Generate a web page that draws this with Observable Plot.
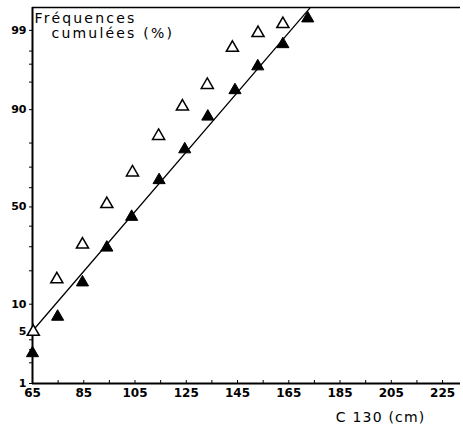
<!DOCTYPE html>
<html><head><meta charset="utf-8">
<script src="https://cdn.jsdelivr.net/npm/d3@7"></script>
<script src="https://cdn.jsdelivr.net/npm/@observablehq/plot@0.6"></script>
<style>body{margin:0;background:#fff;} svg{font-family:"DejaVu Sans",sans-serif;}</style>
</head><body><div id="chart"></div>
<script>
// Data (C 130 in cm, cumulative frequency in %)
const xOpen = [65.3, 74.5, 84.5, 94, 104, 114.2, 123.5, 133.2, 143, 153, 162.7];
const pOpen = [5, 17, 31, 51.5, 67.5, 82.5, 90.7, 94.6, 98.2, 98.9, 99.2];
const xFilled = [65, 74.8, 84.5, 94, 103.7, 114.4, 124.4, 133.4, 144, 152.9, 162.7, 172.4];
const pFilled = [2.7, 7.4, 16, 29.6, 44.8, 63.8, 77.6, 88.3, 93.8, 96.8, 98.4, 99.35];
const xLine = [65, 173.2];
const pLine = [5.1, 99.56];
const xTicks = [65, 85, 105, 125, 145, 165, 185, 205, 225];
const xMinor = [75, 95, 115, 135, 155, 175, 195, 215];
const yTicks = [1, 5, 10, 50, 90, 99];
const yMinor = [2, 3, 4, 20, 30, 40, 60, 70, 80, 95, 97, 98];
const titleLines = ["Fréquences", "cumulées (%)"];
const xLabel = "C 130 (cm)";

// inverse normal CDF (Acklam)
function probit(p) {
  const a = [-3.969683028665376e+01, 2.209460984245205e+02, -2.759285104469687e+02, 1.383577518672690e+02, -3.066479806614716e+01, 2.506628277459239e+00];
  const b = [-5.447609879822406e+01, 1.615858368580409e+02, -1.556989798598866e+02, 6.680131188771972e+01, -1.328068155288572e+01];
  const c = [-7.784894002430293e-03, -3.223964580411365e-01, -2.400758277161838e+00, -2.549732539343734e+00, 4.374664141464968e+00, 2.938163982698783e+00];
  const d = [7.784695709041462e-03, 3.224671290700398e-01, 2.445134137142996e+00, 3.754408661907416e+00];
  const pl = 0.02425, ph = 1 - pl;
  let q, r;
  if (p < pl) { q = Math.sqrt(-2 * Math.log(p)); return (((((c[0]*q+c[1])*q+c[2])*q+c[3])*q+c[4])*q+c[5]) / ((((d[0]*q+d[1])*q+d[2])*q+d[3])*q+1); }
  if (p <= ph) { q = p - 0.5; r = q*q; return (((((a[0]*r+a[1])*r+a[2])*r+a[3])*r+a[4])*r+a[5])*q / (((((b[0]*r+b[1])*r+b[2])*r+b[3])*r+b[4])*r+1); }
  q = Math.sqrt(-2 * Math.log(1 - p)); return -(((((c[0]*q+c[1])*q+c[2])*q+c[3])*q+c[4])*q+c[5]) / ((((d[0]*q+d[1])*q+d[2])*q+d[3])*q+1);
}
const z = p => probit(p / 100);

const open = xOpen.map((x, i) => ({x, z: z(pOpen[i])}));
const filled = xFilled.map((x, i) => ({x, z: z(pFilled[i])}));
const line = xLine.map((x, i) => ({x, z: z(pLine[i])}));
const yDomain = [z(1), z(99.57)];
const labelOf = new Map(yTicks.map(t => [z(t), String(t)]));

const chart = Plot.plot({
  width: 463, height: 428,
  marginLeft: 32, marginTop: 7, marginRight: 3, marginBottom: 45,
  x: {domain: [65, 232]},
  y: {domain: yDomain},
  style: {fontSize: "11px", fontWeight: "bold", color: "#000"},
  marks: [
    Plot.ruleY([yDomain[1]], {stroke: "#000", strokeWidth: 1.5}),
    Plot.ruleY([yDomain[0]], {stroke: "#000", strokeWidth: 2}),
    Plot.ruleX([65], {stroke: "#000", strokeWidth: 2}),
    Plot.axisX(xTicks, {tickSize: -3, tickPadding: 8, label: null, fontSize: 12, fontWeight: "bold"}),
    Plot.axisX(xMinor, {tickSize: -3, tickFormat: () => "", label: null}),
    Plot.axisY(yTicks.map(z), {tickSize: 3, tickPadding: 3, tickFormat: v => labelOf.get(v), label: null, fontSize: 11, fontWeight: "bold"}),
    Plot.axisY(yMinor.map(z), {tickSize: 3, tickFormat: () => "", label: null}),
    Plot.line(line, {x: "x", y: "z", stroke: "#000", strokeWidth: 1.3}),
    Plot.dot(open, {x: "x", y: "z", symbol: "triangle", r: 4.5, fill: "#fff", stroke: "#000", strokeWidth: 1.5}),
    Plot.dot(filled, {x: "x", y: "z", symbol: "triangle", r: 4.5, fill: "#000", stroke: "#000", strokeWidth: 1}),
    Plot.text([titleLines[0]], {frameAnchor: "top-left", dx: 2, dy: 6, textAnchor: "start", lineAnchor: "top", fontSize: 14, fontWeight: "normal"}),
    Plot.text([titleLines[1]], {frameAnchor: "top-left", dx: 19, dy: 21, textAnchor: "start", lineAnchor: "top", fontSize: 14, fontWeight: "normal"}),
    Plot.text([xLabel], {frameAnchor: "bottom-right", dx: -35, dy: 34, textAnchor: "end", lineAnchor: "middle", fontSize: 14, fontWeight: "normal"})
  ]
});
d3.select(chart).selectAll("text").each(function() {
  const t = this.textContent;
  if (titleLines.includes(t)) this.setAttribute("letter-spacing", "2.2px");
  else if (t === xLabel) this.setAttribute("letter-spacing", "1.2px");
});
document.getElementById("chart").append(chart);
</script>
</body></html>
